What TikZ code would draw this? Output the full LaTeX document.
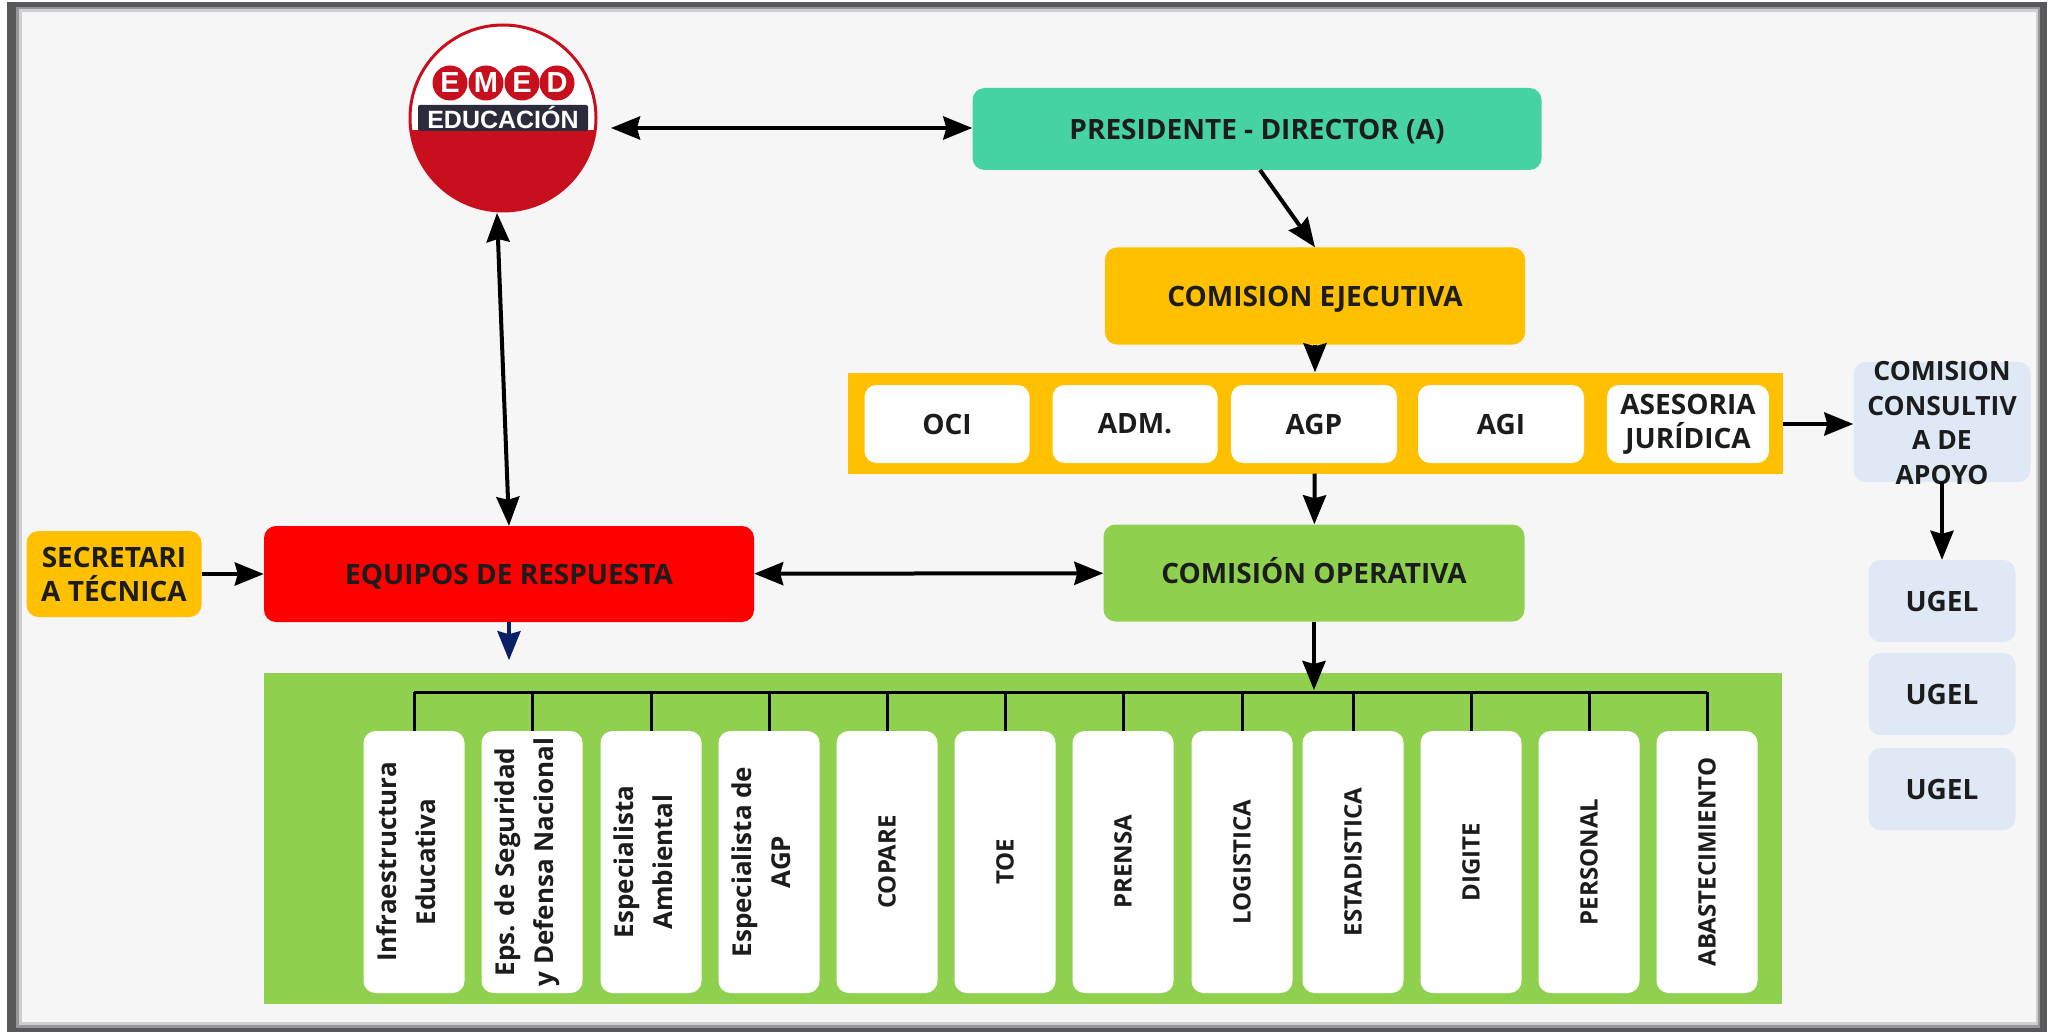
\documentclass[tikz,border=0pt]{standalone}
\usepackage{fontspec}
\setmainfont{Open Sans}
\newfontfamily\logofont{Liberation Sans}
\usetikzlibrary{arrows.meta}
\definecolor{fondo}{HTML}{F6F6F7}
\definecolor{marco}{HTML}{58585A}
\definecolor{turquesa}{HTML}{45D3A3}
\definecolor{ambar}{HTML}{FFC000}
\definecolor{verde}{HTML}{8FD14F}
\definecolor{azulclaro}{HTML}{DEE9F5}
\definecolor{rojologo}{HTML}{C80F1E}
\definecolor{bandalogo}{HTML}{2B2B3B}
\definecolor{tinta}{HTML}{1C1C1C}
\definecolor{marino}{HTML}{0B1F66}
\tikzset{
    caja/.style={rounded corners=12pt, align=center, inner sep=0pt, text=tinta,
        font=\fontsize{28}{34}\selectfont\bfseries},
    cajaw/.style={caja, fill=white},
    linea/.style={text height=20.5pt, text depth=0pt},
    area/.style={fill=#1, inner sep=0pt},
    vertical/.style={cajaw, minimum width=262pt, minimum height=101pt, rotate=90,
        font=\fontsize{#1}{39}\selectfont\bfseries},
    conector/.style={line width=4pt, -{Stealth[length=29pt,width=23pt,inset=3pt]}},
    doble/.style={line width=4pt, {Stealth[length=29pt,width=23pt,inset=3pt]}-{Stealth[length=29pt,width=23pt,inset=3pt]}},
    rama/.style={line width=3pt, black},
    letra/.style={circle, fill=rojologo, minimum size=35pt, inner sep=0pt, text=white,
        font=\logofont\fontsize{29}{29}\selectfont\bfseries},
}
\begin{document}
\begin{tikzpicture}[x=1pt,y=-1pt]
    \useasboundingbox (0,0) rectangle (2053,1032);
    \fill[white] (0,0) rectangle (2053,1032);
    \fill[marco] (7,2) rectangle (2047,1032);
    % sombra interior del marco
    \fill[marco!60!fondo] (16,7) rectangle (2040,1028);
    \fill[marco!25!fondo] (19,9) rectangle (2038,1025);
    \fill[fondo] (22,12) rectangle (2036,1022);
    % logo
    \node[circle, draw=rojologo, fill=white, line width=3pt, minimum size=186pt, inner sep=0pt] (logo) at (503,118) {};
    \begin{scope}
        \clip (503,118) circle (92pt);
        \fill[rojologo] (400,130) rectangle (610,215);
    \end{scope}
    \node[fill=bandalogo, rounded corners=2pt, minimum width=170pt, minimum height=26pt, inner sep=0pt, text=white,
        font=\logofont\fontsize{25}{25}\selectfont\bfseries] (banda) at (503,118) {EDUCACIÓN};
    \node[letra] (e1) at (450,83) {E};
    \node[letra] (m1) at (486,83) {M};
    \node[letra] (e2) at (522,83) {E};
    \node[letra] (d1) at (557,83) {D};
    % comisiones
    \node[caja, linea, fill=turquesa, minimum width=569pt, minimum height=82pt] (presidente) at (1257,129) {PRESIDENTE - DIRECTOR (A)};
    \node[caja, linea, fill=ambar, minimum width=420pt, minimum height=97pt] (ejecutiva) at (1315,296) {COMISION EJECUTIVA};
    \node[area=ambar, minimum width=935pt, minimum height=101pt] (asesores) at (1315,423) {};
    \node[cajaw, minimum width=165pt, minimum height=78pt] (oci) at (947,424) {OCI};
    \node[cajaw, minimum width=165pt, minimum height=78pt] (adm) at (1135,424) {ADM.};
    \node[cajaw, minimum width=166pt, minimum height=78pt] (agp) at (1314,424) {AGP};
    \node[cajaw, minimum width=166pt, minimum height=78pt] (agi) at (1501,424) {AGI};
    \node[cajaw, minimum width=162pt, minimum height=78pt] (juridica) at (1688,424) {ASESORIA\\JURÍDICA};
    \node[caja, linea, fill=verde, minimum width=421pt, minimum height=97pt] (operativa) at (1314,573) {COMISIÓN OPERATIVA};
    \node[caja, linea, fill=red, minimum width=490pt, minimum height=96pt] (equipos) at (509,574) {EQUIPOS DE RESPUESTA};
    \node[caja, fill=ambar, minimum width=175pt, minimum height=86pt] (secretaria) at (114,574) {SECRETARI\\A TÉCNICA};
    \node[caja, fill=azulclaro, minimum width=177pt, minimum height=120pt] (consultiva) at (1942,422) {};
    \node[caja, font=\fontsize{26.5}{34.5}\selectfont\bfseries] (consultivatxt) at (1942,423) {COMISION\\CONSULTIV\\A DE\\APOYO};
    \node[caja, fill=azulclaro, minimum width=147pt, minimum height=82pt] (ugel1) at (1942,601) {UGEL};
    \node[caja, fill=azulclaro, minimum width=147pt, minimum height=82pt] (ugel2) at (1942,694) {UGEL};
    \node[caja, fill=azulclaro, minimum width=147pt, minimum height=82pt] (ugel3) at (1942,789) {UGEL};
    % especialistas
    \node[area=verde, minimum width=1518pt, minimum height=331pt] (especialistas) at (1023,838) {};
    \coordinate (bus) at (1314,692);
    \coordinate (punta) at (1314,690);
    \foreach \n/\x/\t in {1/414/Infraestructura\\Educativa, 2/532/Eps. de Seguridad\\y Defensa Nacional, 3/651/Especialista\\Ambiental,
        4/769/Especialista de\\AGP}
        \node[vertical=26, execute at end node={\rule[-15pt]{0pt}{0pt}}] (esp\n) at (\x,862) {\t};
    \foreach \n/\x/\t in {5/887/COPARE, 6/1005/TOE, 7/1123/PRENSA, 8/1242/LOGISTICA, 9/1353/ESTADISTICA,
        10/1471/DIGITE, 11/1589/PERSONAL, 12/1707/ABASTECIMIENTO}
        \node[vertical=24] (esp\n) at (\x,862) {\t};
    \foreach \n in {1,...,12}
        \draw[rama] (esp\n.east) -- (esp\n.east |- bus);
    \draw[rama] (esp1.east |- bus) -- (esp12.east |- bus);
    % conectores
    \coordinate (a1) at (611,128);
    \draw[doble] (a1) -- (presidente.west |- a1);
    \coordinate (a2) at (1260,170);
    \draw[conector] (a2) -- (ejecutiva.north);
    \draw[conector] (ejecutiva) -- (asesores);
    \draw[conector] (asesores) -- (operativa);
    \draw[conector] (asesores.east |- juridica) -- (consultiva.west |- juridica);
    \draw[conector] (consultiva.south) -- (ugel1);
    \draw[conector] (secretaria) -- (equipos);
    \draw[doble] (equipos) -- (operativa);
    \coordinate (a3) at (497,213);
    \draw[doble] (a3) -- (equipos.north);
    \draw[conector] (operativa) -- (punta);
    \draw[line width=4pt, marino, -{Stealth[length=29pt,width=23pt,inset=3pt]}] (equipos.south) -- ++(0,38);
\end{tikzpicture}
\end{document}
